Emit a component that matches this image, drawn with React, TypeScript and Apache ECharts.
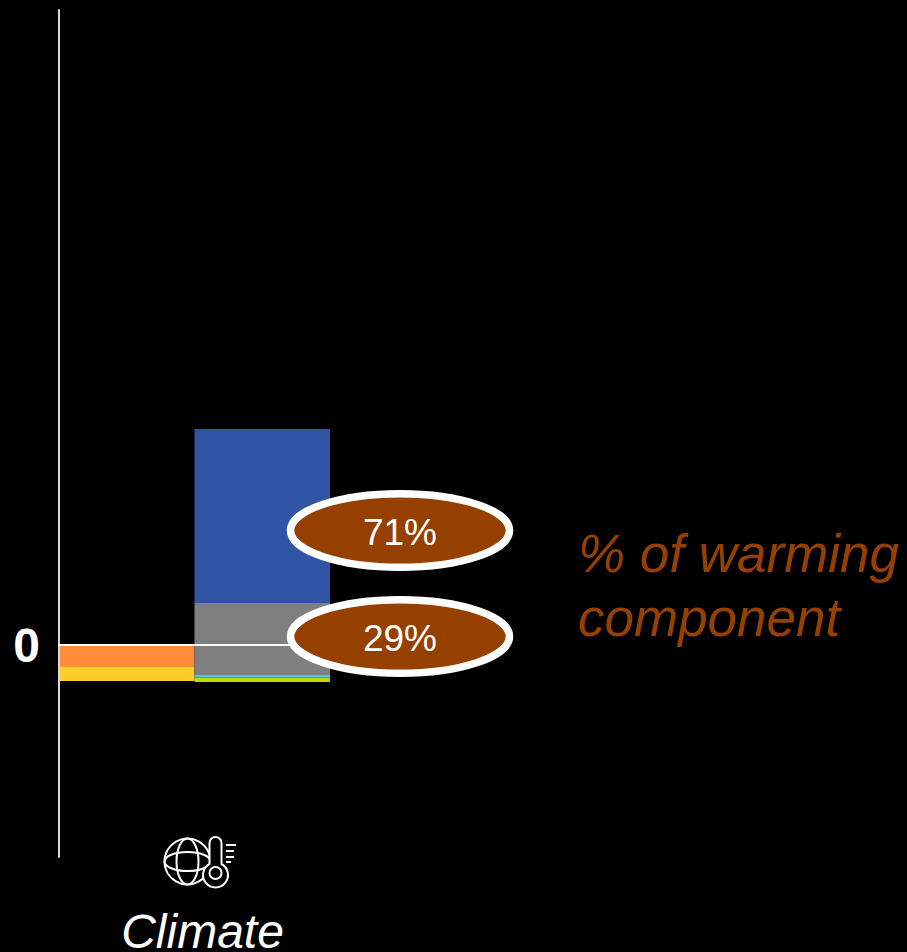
import React, { useEffect, useRef } from "react";
import * as echarts from "echarts";

const categories = ["Climate"];
const orangeValues = [-0.22];
const yellowValues = [-0.14];
const greyUpValues = [0.42];
const blueValues = [1.74];
const greyDownValues = [-0.3];
const cyanValues = [-0.025];
const limeValues = [-0.045];
const zeroTick = [0];
const shareLabels = ["71%", "29%"];
const captionLines = "% of warming\ncomponent";

const BROWN = "#964000";
const FONT = "'Liberation Sans', Arial, sans-serif";

// Thermometer of the pictogram; its black fill hides the globe behind it.
const THERMOMETER_PATH =
  "M209.5 864V843A6 6 0 0 1 221.5 843V864A12.5 12.5 0 1 1 209.5 864Z";
const MARKS_PATH =
  "M221.5 873A6 6 0 1 1 209.5 873A6 6 0 1 1 221.5 873Z" +
  "M226 845H236M226 851H234M226 857H234M226 862H231";

echarts.graphic.registerShape(
  "thermometerBody",
  echarts.graphic.extendPath(THERMOMETER_PATH, {})
);
echarts.graphic.registerShape(
  "thermometerMarks",
  echarts.graphic.extendPath(MARKS_PATH, {})
);

const stackedBar = (stack: string, data: number[], color: string) => ({
  type: "bar" as const,
  stack,
  data,
  barGap: "0%",
  barCategoryGap: "0%",
  itemStyle: { color },
  xAxisIndex: 0,
  yAxisIndex: 0,
});

const shareBadge = (label: string, cy: number, textY: number) => [
  {
    type: "ellipse",
    z: 20,
    shape: { cx: 400, cy, rx: 109.5, ry: 36.75 },
    style: { fill: BROWN, stroke: "#ffffff", lineWidth: 7.5 },
  },
  {
    type: "text",
    z: 21,
    x: 400,
    y: textY,
    style: {
      text: label,
      fill: "#ffffff",
      font: `37px ${FONT}`,
      textAlign: "center",
      textVerticalAlign: "middle",
    },
  },
];

const iconLine = { fill: "none", stroke: "#ffffff", lineWidth: 2 };

const globe = [
  { type: "circle", shape: { cx: 187.5, cy: 861.5, r: 23 } },
  { type: "ellipse", shape: { cx: 187.5, cy: 861.5, rx: 11, ry: 23 } },
  { type: "ellipse", shape: { cx: 187.5, cy: 861.5, rx: 23, ry: 9.5 } },
].map((part) => ({ ...part, z: 20, style: iconLine }));

export default function App() {
  const ref = useRef<HTMLDivElement>(null);

  useEffect(() => {
    document.body.style.margin = "0";
    document.body.style.background = "#000";
    const chart = echarts.init(ref.current!, null, { renderer: "svg" });
    chart.setOption({
      animation: false,
      backgroundColor: "#000000",
      grid: { left: 59, right: 577, top: 10, bottom: 95, outerBoundsMode: "none" },
      xAxis: [
        {
          type: "category",
          data: categories,
          z: 10,
          axisLine: { onZero: true, lineStyle: { color: "#ffffff", width: 2 } },
          axisTick: { show: false },
          axisLabel: { show: false },
        },
        {
          type: "category",
          data: categories,
          position: "bottom",
          axisLine: { show: false, onZero: false },
          axisTick: { show: false },
          axisLabel: {
            color: "#ffffff",
            fontFamily: FONT,
            fontStyle: "italic",
            fontSize: 48,
            lineHeight: 40,
            margin: 54,
            padding: [0, 0, 0, 16],
          },
        },
      ],
      yAxis: {
        type: "value",
        min: -2.12,
        max: 6.35,
        z: 10,
        splitLine: { show: false },
        axisTick: { show: false },
        axisLine: { show: true, onZero: false, lineStyle: { color: "#d9d9d9", width: 2 } },
        axisLabel: {
          customValues: zeroTick,
          color: "#ffffff",
          fontFamily: FONT,
          fontWeight: "bold",
          fontSize: 48,
          margin: 19,
          padding: [4, 0, 0, 0],
        },
      },
      series: [
        stackedBar("left", orangeValues, "#FF8C3A"),
        stackedBar("left", yellowValues, "#FFCC29"),
        stackedBar("right", greyUpValues, "#7F7F7F"),
        stackedBar("right", blueValues, "#2F55A4"),
        stackedBar("right", greyDownValues, "#7F7F7F"),
        stackedBar("right", cyanValues, "#4FC8E8"),
        stackedBar("right", limeValues, "#C0D800"),
      ],
      graphic: [
        ...shareBadge(shareLabels[0], 530.5, 532),
        ...shareBadge(shareLabels[1], 636.5, 638),
        {
          type: "text",
          z: 20,
          x: 578,
          y: 521,
          style: {
            text: captionLines,
            fill: BROWN,
            font: `italic 53px ${FONT}`,
            lineHeight: 64,
          },
        },
        ...globe,
        {
          type: "thermometerBody",
          z: 21,
          x: 0,
          y: 0,
          style: { fill: "#000000", stroke: "#ffffff", lineWidth: 2 },
        },
        { type: "thermometerMarks", z: 22, x: 0, y: 0, style: iconLine },
      ],
    });
    return () => chart.dispose();
  }, []);

  return <div ref={ref} style={{ width: 907, height: 952 }} />;
}
